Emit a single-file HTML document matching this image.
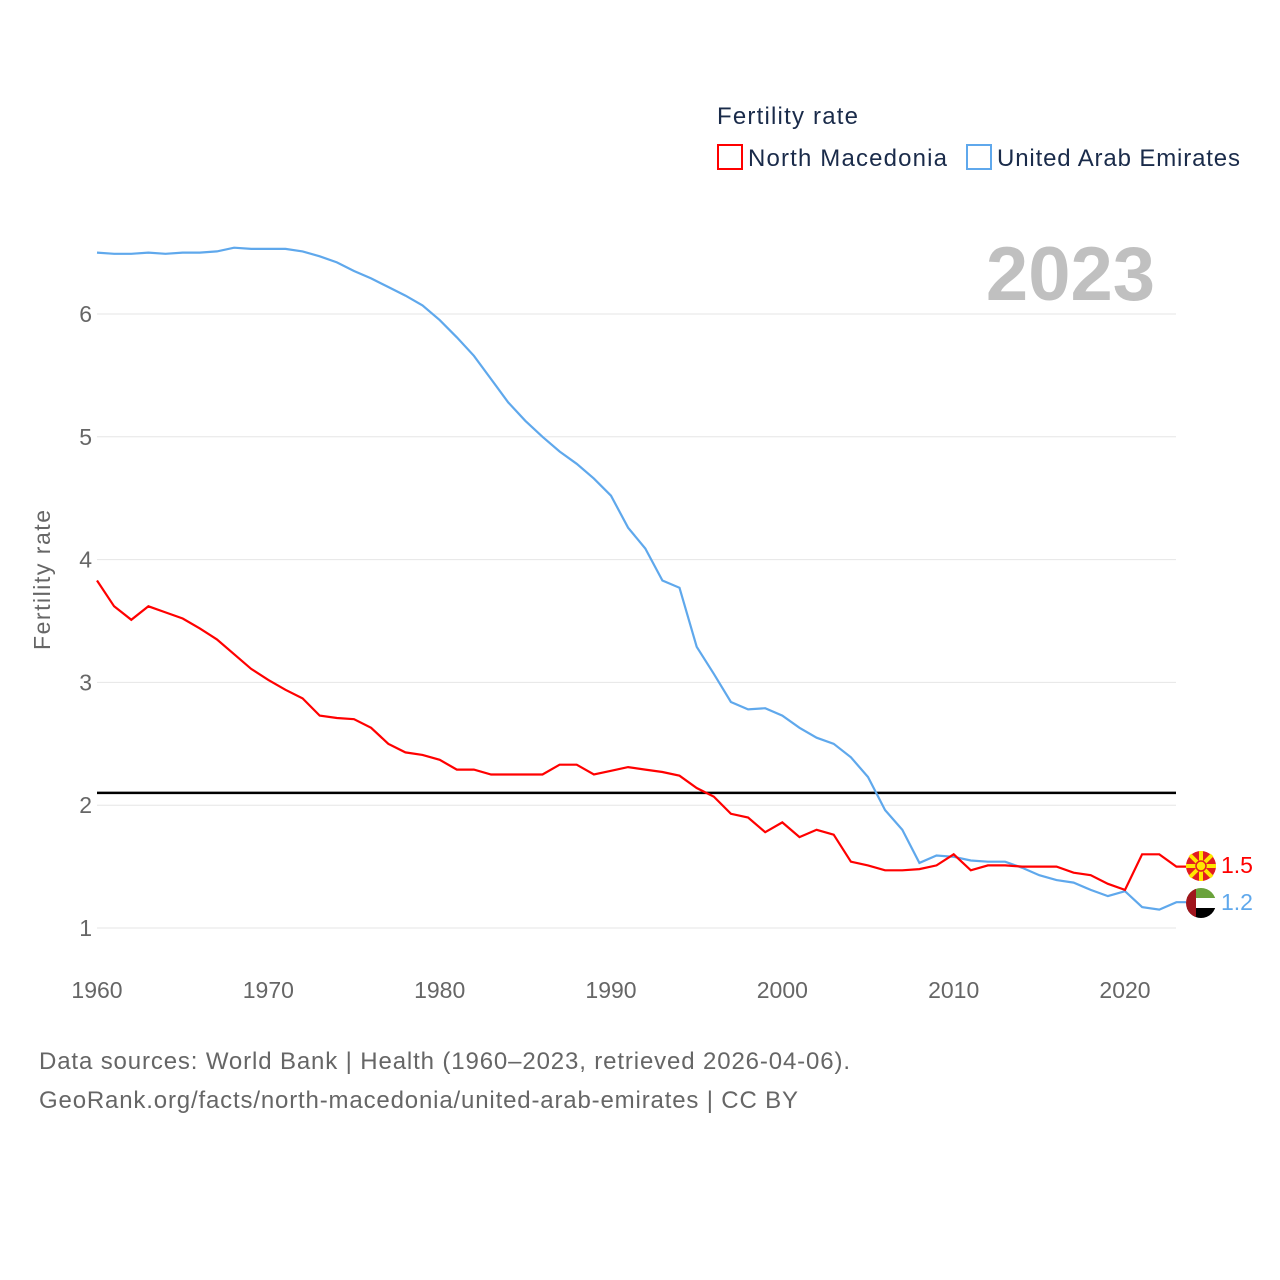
<!DOCTYPE html>
<html><head><meta charset="utf-8"><style>
body{margin:0;background:#fff;}
svg{display:block;font-family:"Liberation Sans",sans-serif;}
</style></head><body>
<svg id="chart" width="1280" height="1280" viewBox="0 0 1280 1280">
<g id="grid"></g>
<g id="yticks"></g>
<g id="xticks"></g>
<text x="50" y="580" transform="rotate(-90 50 580)" text-anchor="middle" font-size="23" fill="#666" textLength="140">Fertility rate</text>
<text x="1155" y="300" text-anchor="end" font-size="76" font-weight="bold" fill="#c0c0c0">2023</text>
<g>
<text x="717" y="124" font-size="24" fill="#1a2b4a" textLength="141">Fertility rate</text>
<g><rect x="718" y="145" width="24" height="24" fill="none" stroke="#f00" stroke-width="2"/><text x="748" y="166" font-size="24" fill="#1a2b4a" textLength="199">North Macedonia</text></g>
<g><rect x="967" y="145" width="24" height="24" fill="none" stroke="#5fa8ec" stroke-width="2"/><text x="997" y="166" font-size="24" fill="#1a2b4a" textLength="243">United Arab Emirates</text></g>
</g>
<line id="refline" stroke="#000" stroke-width="2.5"/>
<path id="uae" fill="none" stroke="#5fa8ec" stroke-width="2.2"/>
<path id="mk" fill="none" stroke="#f00" stroke-width="2.2"/>
<g>
<circle cx="1201" cy="866" r="15" fill="#e21c21"/>
<g stroke="#ffe600" stroke-width="4">
<line x1="1186" y1="866" x2="1216" y2="866"/><line x1="1201" y1="851" x2="1201" y2="881"/>
<line x1="1190" y1="855" x2="1212" y2="877"/><line x1="1212" y1="855" x2="1190" y2="877"/></g>
<circle cx="1201" cy="866" r="5" fill="#ffe600" stroke="#e21c21" stroke-width="1.5"/>
</g>
<g>
<clipPath id="cp"><circle cx="1201" cy="903" r="15"/></clipPath>
<g clip-path="url(#cp)"><rect x="1186" y="888" width="30" height="10" fill="#6aa23b"/><rect x="1186" y="898" width="30" height="10" fill="#fff"/><rect x="1186" y="908" width="30" height="10" fill="#000"/><rect x="1186" y="888" width="10" height="30" fill="#a0151d"/></g>
</g>
<text x="1221" y="873" font-size="23" fill="#f00">1.5</text>
<text x="1221" y="910" font-size="23" fill="#5fa8ec">1.2</text>
<text x="39" y="1069" font-size="24" fill="#666" textLength="811">Data sources: World Bank | Health (1960–2023, retrieved 2026-04-06).</text>
<text x="39" y="1108" font-size="24" fill="#666" textLength="759">GeoRank.org/facts/north-macedonia/united-arab-emirates | CC BY</text>
</svg>
<script>
const years=[];for(let y=1960;y<=2023;y++)years.push(y);
const uaeValues=[6.50,6.49,6.49,6.50,6.49,6.50,6.50,6.51,6.54,6.53,6.53,6.53,6.51,6.47,6.42,6.35,6.29,6.22,6.15,6.07,5.95,5.81,5.66,5.47,5.28,5.13,5.00,4.88,4.78,4.66,4.52,4.26,4.09,3.83,3.77,3.29,3.07,2.84,2.78,2.79,2.73,2.63,2.55,2.50,2.39,2.23,1.96,1.80,1.53,1.59,1.58,1.55,1.54,1.54,1.49,1.43,1.39,1.37,1.31,1.26,1.30,1.17,1.15,1.21];
const mkValues=[3.83,3.62,3.51,3.62,3.57,3.52,3.44,3.35,3.23,3.11,3.02,2.94,2.87,2.73,2.71,2.70,2.63,2.50,2.43,2.41,2.37,2.29,2.29,2.25,2.25,2.25,2.25,2.33,2.33,2.25,2.28,2.31,2.29,2.27,2.24,2.14,2.07,1.93,1.90,1.78,1.86,1.74,1.80,1.76,1.54,1.51,1.47,1.47,1.48,1.51,1.60,1.47,1.51,1.51,1.50,1.50,1.50,1.45,1.43,1.36,1.31,1.60,1.60,1.50];
const yTicks=[1,2,3,4,5,6];
const xTicks=[1960,1970,1980,1990,2000,2010,2020];
const refValue=2.1;
const NS='http://www.w3.org/2000/svg';
const X=y=>97+(y-1960)*1028/60;
const Y=v=>928-(v-1)*122.8;
const grid=document.getElementById('grid'),yt=document.getElementById('yticks'),xt=document.getElementById('xticks');
yTicks.forEach(t=>{
 const l=document.createElementNS(NS,'line');
 l.setAttribute('x1',97);l.setAttribute('x2',1176);l.setAttribute('y1',Y(t));l.setAttribute('y2',Y(t));
 l.setAttribute('stroke','#e6e6e6');l.setAttribute('stroke-width','1');
 
 
 grid.appendChild(l);
 const tx=document.createElementNS(NS,'text');
 tx.setAttribute('x',92);tx.setAttribute('y',Y(t)+8);tx.setAttribute('text-anchor','end');
 tx.setAttribute('font-size','23');tx.setAttribute('fill','#666');tx.textContent=t;
 
 
 yt.appendChild(tx);
});
xTicks.forEach(t=>{
 const tx=document.createElementNS(NS,'text');
 tx.setAttribute('x',X(t));tx.setAttribute('y',998);tx.setAttribute('text-anchor','middle');
 tx.setAttribute('font-size','23');tx.setAttribute('fill','#666');tx.textContent=t;
 
 
 xt.appendChild(tx);
});
const r=document.getElementById('refline');
r.setAttribute('x1',97);r.setAttribute('x2',1176);r.setAttribute('y1',Y(refValue));r.setAttribute('y2',Y(refValue));
function path(vals){return vals.map((v,i)=>(i?'L':'M')+X(years[i]).toFixed(1)+' '+Y(v).toFixed(1)).join(' ');}
document.getElementById('uae').setAttribute('d',path(uaeValues)+' L1186 '+Y(uaeValues[uaeValues.length-1]).toFixed(1));
document.getElementById('mk').setAttribute('d',path(mkValues)+' L1186 '+Y(mkValues[mkValues.length-1]).toFixed(1));
</script>
</body></html>
